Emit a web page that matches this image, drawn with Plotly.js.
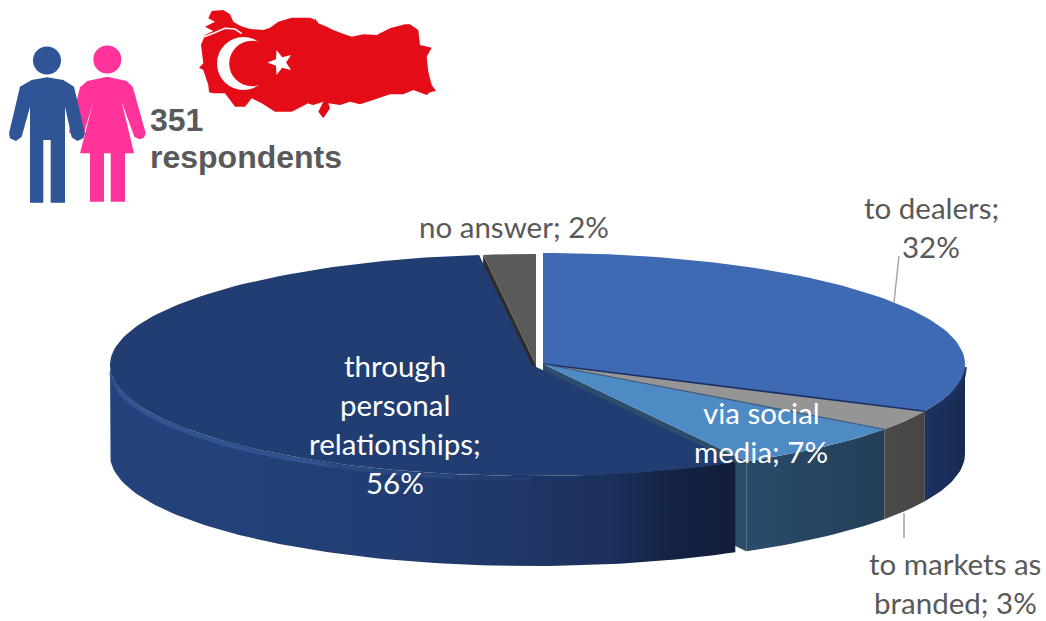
<!DOCTYPE html>
<html>
<head>
<meta charset="utf-8">
<script src="https://cdn.plot.ly/plotly-3.0.1.min.js"></script>
<style>html,body{margin:0;padding:0;background:#fff}#chart{width:1046px;height:621px}</style>
</head>
<body>
<div id="chart"></div>
<script>
// Survey answers
const sliceNames = ["to dealers", "to markets as branded", "via social media", "through personal relationships", "no answer"];
const sliceValues = [32, 3, 7, 56, 2];
const respondentCount = 351;

// Colours per slice: top face, outer wall gradient, cut face
const topColors = ["#3e69b3", "#959595", "#4e8ac3", "#223d72", "#5a5a5a"];
const wallColors = [
  [[0, "#1c3263"], [1, "#172a52"]],
  [[0, "#4b4a49"], [1, "#474645"]],
  [[0, "#2a4b6b"], [1, "#243e56"]],
  [[0, "#24437d"], [0.5, "#223c71"], [0.8, "#1c305c"], [0.9, "#142343"], [1, "#111d3a"]],
  [[0, "#333"], [1, "#333"]]
];
const labelColors = ["#595959", "#595959", "#ffffff", "#ffffff", "#595959"];
const labelWrap = [11, 13, 10, 14, 20];
const labelAnchors = [[931, 207], [955, 563], [761, 412], [395, 365], [514, 226]];
const labelRowGap = 39;

// Disc geometry on the pixel-scaled axes
const rx = 422, ry = 111, depth = 90;
const apexes = [[543, 364], [543, 364], [543, 364], [532, 365], [536, 365]];

// Outlines on a 3x grid, converted to pixels by outline()
const manBody = [[60,260],[95,240],[141,232],[190,240],[222,260],[255,400],[250,415],[232,423],[215,412],[195,320],[195,608],[152,608],[152,420],[130,420],[130,608],[90,608],[90,320],[65,410],[48,423],[30,415],[27,400]];
const womanBody = [[240,262],[262,243],[322,230],[380,243],[398,260],[437,400],[432,413],[418,418],[403,410],[365,305],[402,460],[375,460],[375,605],[332,605],[332,460],[312,460],[312,605],[270,605],[270,460],[240,460],[280,305],[250,405],[225,415],[207,395]];
const mapWest = [[50,18],[85,15],[105,28],[115,50],[135,62],[165,72],[205,75],[225,68],[250,50],[290,38],[345,38],[360,44]];
const mapEast = [[15,40],[25,55],[50,65],[70,75],[95,85],[125,95],[160,88],[200,90],[240,70],[285,58],[300,58],[325,75],[330,120],[365,128],[350,155],[355,200],[365,240],[378,258],[360,262],[350,270],[310,255],[280,268],[240,268],[190,285],[150,298],[120,290],[90,300],[55,295],[60,310],[40,340],[25,320],[40,290],[10,300],[0,298]];
const mapSouth = [[340,295],[290,320],[240,320],[200,295],[170,280],[150,305],[120,305],[90,265],[55,265],[42,262],[40,240],[25,195],[12,188],[25,175],[18,120],[30,90],[55,78],[30,65],[60,50],[40,40]];
const marmaraCoast = [[28,95],[55,85],[90,70],[120,72],[140,86]];

const outline = (pts, ox, oy) => pts.map(p => [ox + p[0] / 3, oy + p[1] / 3]);
const pathOf = (pts, close) => "M" + pts.map(p => p[0].toFixed(1) + "," + p[1].toFixed(1)).join(" L") + (close ? " Z" : "");

const total = sliceValues.reduce((a, b) => a + b, 0);
const starts = [];
sliceValues.reduce((sum, v, i) => (starts[i] = sum / total, sum + v), 0);
const ends = starts.map((s, i) => s + sliceValues[i] / total);

function rim(apex, f) {
  const a = 2 * Math.PI * f;
  return [apex[0] + rx * Math.sin(a), apex[1] - ry * Math.cos(a)];
}
function arc(apex, f0, f1, dy) {
  const n = Math.max(2, Math.ceil((f1 - f0) * 240));
  const out = [];
  for (let i = 0; i <= n; i++) {
    const p = rim(apex, f0 + (f1 - f0) * i / n);
    out.push([p[0], p[1] + (dy || 0)]);
  }
  return out;
}
function polygon(pts, color, gradient) {
  const t = {
    type: "scatter", mode: "lines", x: pts.map(p => p[0]), y: pts.map(p => p[1]),
    fill: "toself", line: { width: 0 }, hoverinfo: "skip", showlegend: false
  };
  if (gradient) t.fillgradient = { type: "horizontal", colorscale: gradient };
  else t.fillcolor = color;
  return t;
}
function stroke(pts, color, width) {
  return {
    type: "scatter", mode: "lines", x: pts.map(p => p[0]), y: pts.map(p => p[1]),
    line: { color: color, width: width }, hoverinfo: "skip", showlegend: false
  };
}
function topFace(i) {
  return polygon([apexes[i]].concat(arc(apexes[i], starts[i], ends[i])), topColors[i]);
}
function wall(i) {
  const f0 = Math.max(starts[i], 0.25), f1 = Math.min(ends[i], 0.75);
  if (f1 <= f0) return null;
  const upper = arc(apexes[i], f0, f1), lower = arc(apexes[i], f0, f1, depth).reverse();
  return polygon(upper.concat(lower), null, wallColors[i]);
}
function cutFace(i, f, color) {
  const a = apexes[i], b = rim(a, f);
  return polygon([a, b, [b[0], b[1] + depth], [a[0], a[1] + depth]], color);
}

const traces = [];
const push = t => { if (t) traces.push(t); };
const [DEAL, MARK, SOC, PERS, NONE] = [0, 1, 2, 3, 4];

// Back to front: the cut face of the small back slice sits under the big slice
push(cutFace(NONE, starts[NONE], "#2e2b29"));
push(wall(DEAL));
push(stroke(arc(apexes[DEAL], 0.25, ends[DEAL], 3), "rgba(30,50,95,0.9)", 4));
push(topFace(DEAL));
push(wall(MARK));
push(topFace(MARK));
push(stroke([apexes[DEAL], rim(apexes[DEAL], ends[DEAL])], "#1b2f63", 1.6));
push(cutFace(SOC, ends[SOC], "#2b4c6b"));
push(wall(SOC));
push(topFace(SOC));
push(stroke([apexes[SOC], rim(apexes[SOC], starts[SOC])], "#3d5778", 1.2));
push(wall(PERS));
// Bevel highlight on the rim, fading towards the front of the disc
[[0.72, 0.745, 0.25], [0.66, 0.72, 0.6], [0.58, 0.66, 0.55], [0.53, 0.58, 0.3], [0.50, 0.53, 0.12]].forEach(s => {
  push(stroke(arc(apexes[PERS], s[0], s[1], 3), "rgba(62,98,165," + s[2] + ")", 4));
});
push(topFace(PERS));
push(topFace(NONE));

// Value labels, wrapped onto rows
function wrap(text, width) {
  const rows = [];
  text.split(" ").forEach(w => {
    const last = rows[rows.length - 1];
    if (last && (last + " " + w).length <= width) rows[rows.length - 1] = last + " " + w;
    else rows.push(w);
  });
  return rows;
}
const annotations = [];
sliceNames.forEach((name, i) => {
  wrap(name + "; " + sliceValues[i] + "%", labelWrap[i]).forEach((row, r) => {
    annotations.push({
      x: labelAnchors[i][0], y: labelAnchors[i][1] + r * labelRowGap, xref: "x", yref: "y",
      text: row, showarrow: false, xanchor: "center", yanchor: "middle",
      font: { family: "Lato, sans-serif", size: 29.5, color: labelColors[i] }
    });
  });
});
[[String(respondentCount), 120], ["respondents", 156.5]].forEach(a => {
  annotations.push({
    x: 150, y: a[1], xref: "x", yref: "y", text: "<b>" + a[0] + "</b>", showarrow: false,
    xanchor: "left", yanchor: "middle", xshift: -2,
    font: { family: "Liberation Sans, Arial, sans-serif", size: 32, color: "#595959" }
  });
});

const RED = "#e30c17", BLUE = "#2f5597", PINK = "#ff3399";
const circle = (cx, cy, r, color) => ({
  type: "circle", xref: "x", yref: "y", x0: cx - r, x1: cx + r, y0: cy - r, y1: cy + r,
  fillcolor: color, line: { width: 0 }, layer: "above"
});
const fillPath = (pts, color) => ({
  type: "path", xref: "x", yref: "y", path: pathOf(pts, true), fillcolor: color, line: { width: 0 }, layer: "above"
});
const star = [];
for (let k = 0; k < 10; k++) {
  const r = k % 2 ? 5.6 : 13, a = Math.PI + k * Math.PI / 5;
  star.push([280.5 + r * Math.cos(a), 62.5 + r * Math.sin(a)]);
}
const turkey = outline(mapWest, 195, 5).concat(outline(mapEast, 310, 5), outline(mapSouth, 195, 5));

const shapes = [
  // Map with crescent and star
  fillPath(turkey, RED),
  { type: "path", xref: "x", yref: "y", path: pathOf(outline(marmaraCoast, 195, 5), false), line: { color: "#ffffff", width: 1.6 }, layer: "above" },
  circle(243.5, 63.5, 26.5, "#ffffff"),
  circle(252, 63.5, 22.8, RED),
  fillPath(star, "#ffffff"),
  // Couple
  circle(107.3, 59.5, 14, PINK),
  fillPath(outline(womanBody, 0, 0), PINK),
  circle(47, 60.5, 14, BLUE),
  fillPath(outline(manBody, 0, 0), BLUE),
  // Leader lines
  { type: "line", xref: "x", yref: "y", x0: 899, y0: 256, x1: 894, y1: 302, line: { color: "#a6a6a6", width: 1.5 }, layer: "above" },
  { type: "line", xref: "x", yref: "y", x0: 904, y0: 513, x1: 904, y1: 538, line: { color: "#a6a6a6", width: 1.5 }, layer: "above" }
];

Plotly.newPlot("chart", traces, {
  width: 1046, height: 621, margin: { l: 0, r: 0, t: 0, b: 0 },
  paper_bgcolor: "#ffffff", plot_bgcolor: "#ffffff", showlegend: false,
  xaxis: { range: [0, 1046], visible: false, fixedrange: true },
  yaxis: { range: [621, 0], visible: false, fixedrange: true },
  annotations: annotations, shapes: shapes
}, { displayModeBar: false, staticPlot: true });
</script>
</body>
</html>
